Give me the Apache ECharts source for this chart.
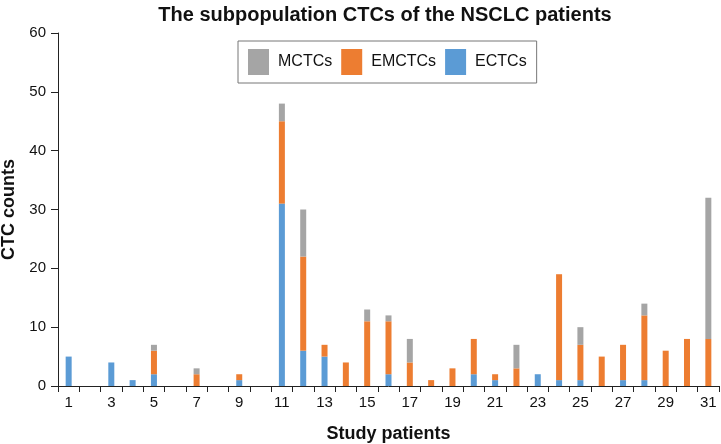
<!DOCTYPE html>
<html><head><meta charset="utf-8">
<script src="https://cdn.jsdelivr.net/npm/echarts@6/dist/echarts.min.js"></script>
<style>html,body{margin:0;padding:0;background:#fff}#c{width:721px;height:444px}</style>
</head><body><div id="c"></div>
<script>
const categories = ['1','2','3','4','5','6','7','8','9','10','11','12','13','14','15','16','17','18','19','20','21','22','23','24','25','26','27','28','29','30','31'];
const ECTCs  = [5,0,4,1,2,0,0,0,1,0,31,6,5,0,0,2,0,0,0,2,1,0,2,1,1,0,1,1,0,0,0];
const EMCTCs = [0,0,0,0,4,0,2,0,1,0,14,16,2,4,11,9,4,1,3,6,1,3,0,18,6,5,6,11,6,8,8];
const MCTCs  = [0,0,0,0,1,0,1,0,0,0,3,8,0,0,2,1,4,0,0,0,0,4,0,0,3,0,0,2,0,0,24];
const yTicks = {min:0, max:60, interval:10};

const FONT = '"Liberation Sans",Arial,Helvetica,sans-serif';
const chart = echarts.init(document.getElementById('c'));
const barW = 6;
chart.setOption({
  animation:false,
  title:{text:'The subpopulation CTCs of the NSCLC patients', left:380, textAlign:'center', top:0,
    textStyle:{fontFamily:FONT, fontWeight:'bold', fontSize:20, color:'#111'}},
  legend:{data:['MCTCs','EMCTCs','ECTCs'], left:238, top:41, orient:'horizontal',
    itemWidth:21, itemHeight:26, itemGap:9, padding:[8,10,8,10],
    borderColor:'#777', borderWidth:1, icon:'rect',
    textStyle:{fontFamily:FONT, fontSize:16, color:'#111', padding:[0,0,0,4]}},
  grid:{left:58, right:2, top:33, bottom:58, containLabel:false, outerBoundsMode:'none'},
  xAxis:{type:'category', data:categories, name:'Study patients', nameLocation:'middle', nameGap:39,
    nameTextStyle:{fontFamily:FONT, fontWeight:'bold', fontSize:18, color:'#111'},
    axisLine:{lineStyle:{color:'#222', width:1}},
    axisTick:{show:true, interval:0, length:6, lineStyle:{color:'#222'}},
    axisLabel:{interval:1, fontFamily:FONT, fontSize:15, color:'#111', margin:9}},
  yAxis:{type:'value', min:yTicks.min, max:yTicks.max, interval:yTicks.interval, name:'CTC counts',
    nameLocation:'middle', nameGap:40, nameRotate:90,
    nameTextStyle:{fontFamily:FONT, fontWeight:'bold', fontSize:18, color:'#111'},
    axisLine:{show:true, lineStyle:{color:'#222', width:1}},
    axisTick:{show:true, length:7, lineStyle:{color:'#222'}},
    splitLine:{show:false},
    axisLabel:{fontFamily:FONT, fontSize:15, color:'#111', margin:12}},
  series:[
    {name:'ECTCs', type:'bar', stack:'s', data:ECTCs, barWidth:barW, itemStyle:{color:'#5B9BD5'}},
    {name:'EMCTCs', type:'bar', stack:'s', data:EMCTCs, barWidth:barW, itemStyle:{color:'#ED7D31'}},
    {name:'MCTCs', type:'bar', stack:'s', data:MCTCs, barWidth:barW, itemStyle:{color:'#A5A5A5'}}
  ]
});
</script></body></html>
